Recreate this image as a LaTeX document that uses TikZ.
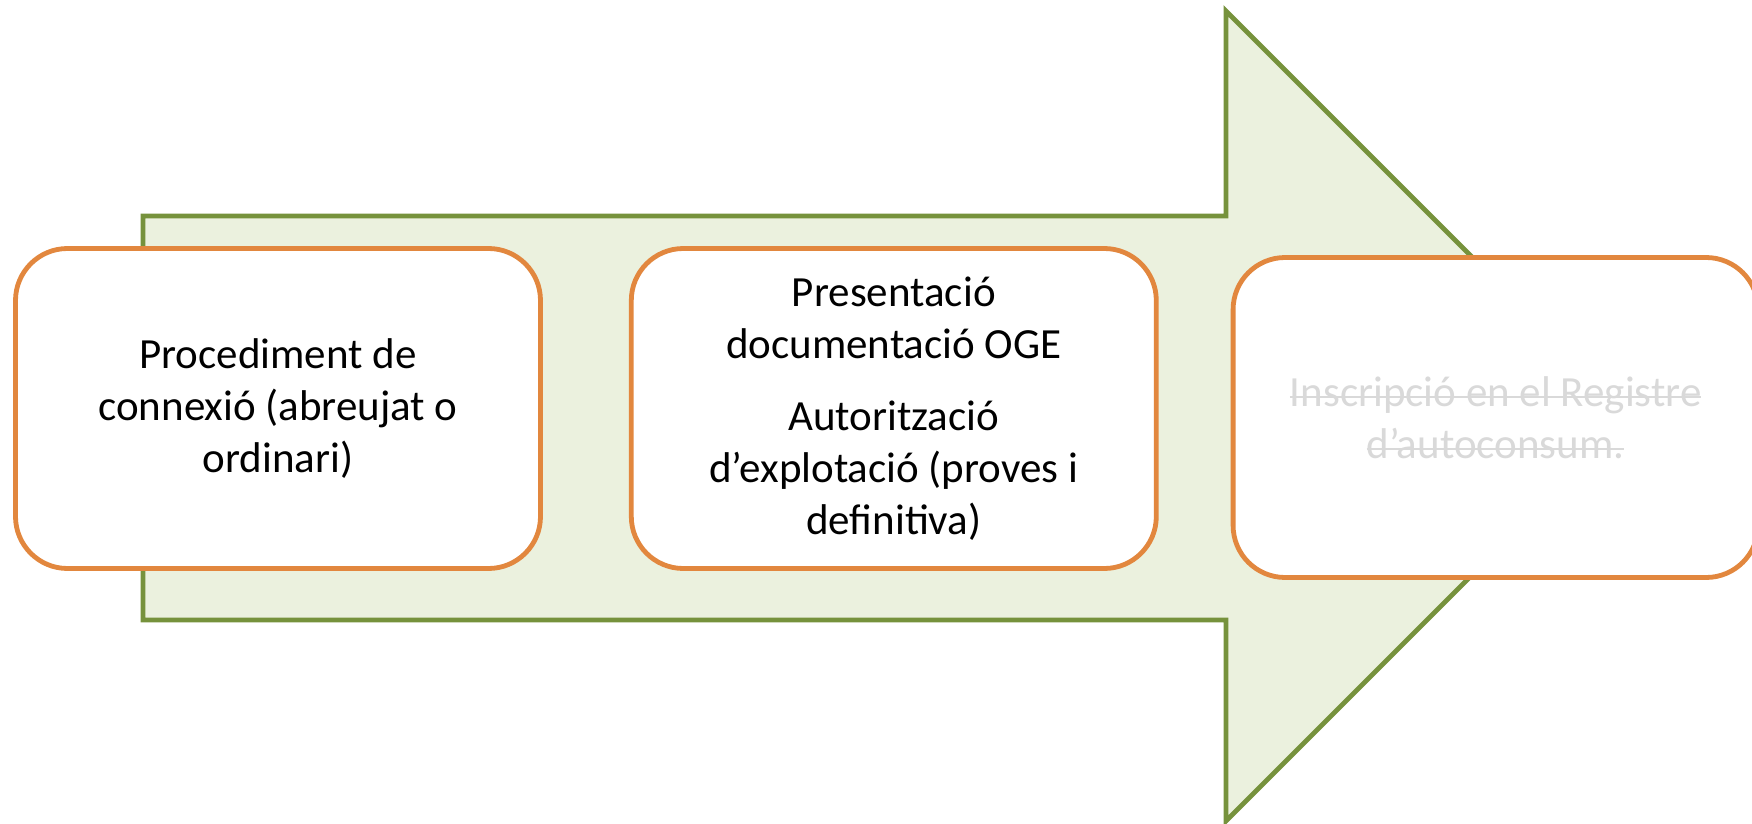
\documentclass[tikz,border=0pt]{standalone}
\usepackage{fontspec}
\setmainfont{Carlito}
\usetikzlibrary{positioning}

\definecolor{arrowline}{HTML}{76923C}
\definecolor{arrowfill}{HTML}{EBF1DE}
\definecolor{boxline}{HTML}{E2873E}
\definecolor{fadedtext}{HTML}{D9D9D9}

% struck-through text
\newsavebox{\strikebox}
\newcommand{\strikeout}[1]{\sbox{\strikebox}{#1}%
  \rlap{\usebox{\strikebox}}\rule[\dimexpr0.44ex-0.6pt\relax]{\wd\strikebox}{1.2pt}}

\begin{document}
\begin{tikzpicture}[x=1pt,y=1pt,
  stage/.style={draw=boxline,line width=2.4pt,fill=white,rounded corners=26pt,
    minimum width=262.5pt,minimum height=160pt,align=center,
    font=\fontsize{21.5}{26}\selectfont},
  node distance=43pt]
  \useasboundingbox (0,0) rectangle (876,-412);

  % --- Background arrow ---
  \draw[draw=arrowline,fill=arrowfill,line width=2.4pt,line join=miter]
    (71.5,-108) -- (613,-108) -- (613,-5.5) -- (815.5,-208) -- (613,-410.5)
    -- (613,-310) -- (71.5,-310) -- cycle;

  % --- First stage ---
  \node[stage] (conn) at (139,-204.25) {Procediment de\\connexió (abreujat o\\ordinari)};

  % --- Stages placed relative to the first one ---
  \node[stage] (oge) [right=of conn]
    {Presentació\\documentació OGE\\[10pt]Autorització\\d’explotació (proves i\\definitiva)};
  \node[stage,text=fadedtext] (reg) [right=36pt of oge,yshift=-4.5pt]
    {\strikeout{Inscripció en el Registre}\\\strikeout{d’autoconsum.}};
\end{tikzpicture}
\end{document}
